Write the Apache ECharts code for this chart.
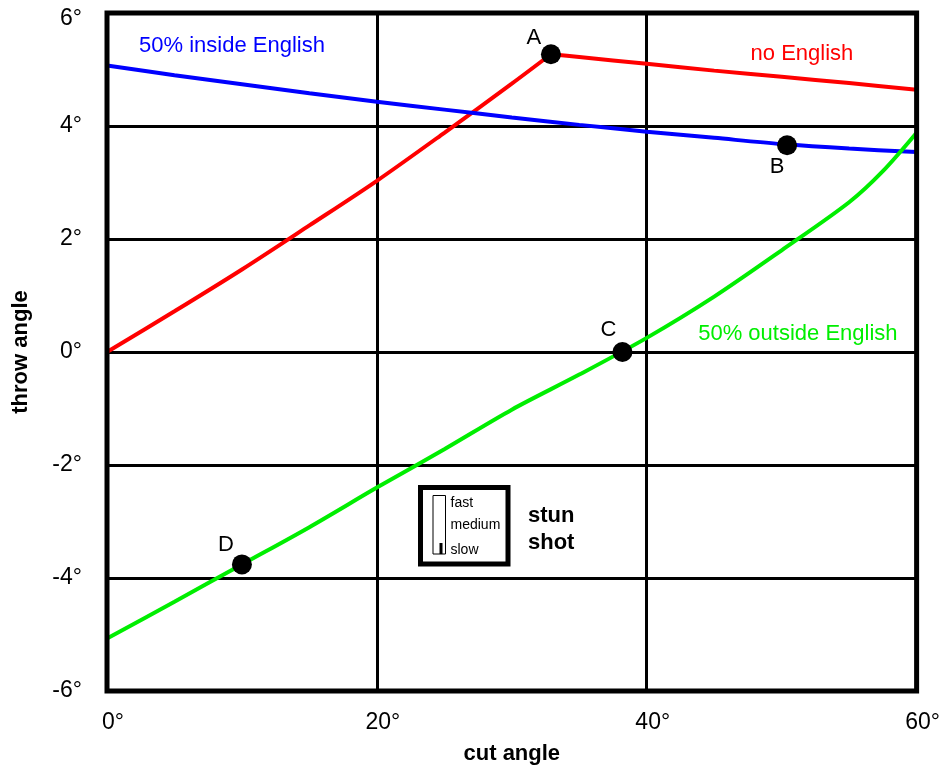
<!DOCTYPE html>
<html>
<head>
<meta charset="utf-8">
<script src="https://cdn.jsdelivr.net/npm/echarts@6/dist/echarts.min.js"></script>
<style>
  html, body { margin: 0; padding: 0; background: #fff; }
  #chart { width: 943px; height: 770px; }
</style>
</head>
<body>
<div id="chart"></div>
<script>
// Throw angle vs. cut angle for a stun shot
const xTicks = [0, 20, 40, 60];
const yTicks = [-6, -4, -2, 0, 2, 4, 6];

// no English: rises to the peak at A, then falls off
const noEnglishRise = [[0, 0], [5, 0.72], [10, 1.46], [15, 2.24], [20, 3.03], [25, 3.88], [30, 4.75], [32.9, 5.27]];
const noEnglishFall = [[32.9, 5.27], [35, 5.22], [40, 5.1], [45, 4.98], [50, 4.87], [55, 4.76], [60, 4.64]];

// 50% inside English
const insideEnglish = [[0, 5.07], [5, 4.9], [10, 4.74], [15, 4.58], [20, 4.43], [25, 4.29], [30, 4.15], [35, 4.02], [40, 3.9], [45, 3.79], [50, 3.68], [55, 3.6], [60, 3.54]];

// 50% outside English
const outsideEnglish = [[0, -5.07], [5, -4.42], [10, -3.76], [15, -3.1], [20, -2.4], [25, -1.72], [30, -1.02], [35, -0.4], [40, 0.25], [45, 0.98], [50, 1.8], [55, 2.65], [57.5, 3.2], [60, 3.88]];

// labelled reference points
const pointNames = ['A', 'B', 'C', 'D'];
const pointValues = [[32.9, 5.27], [50.4, 3.66], [38.2, 0], [10.0, -3.76]];

// curve captions (anchor positions in data units)
const captionTexts = ['50% inside English', 'no English', '50% outside English'];
const captionColors = ['#0000ff', '#ff0000', '#00ee00'];
const captionAnchors = [[9.26, 5.42], [51.5, 5.28], [51.2, 0.32]];

const FONT = '"Liberation Sans", Arial, sans-serif';

const chart = echarts.init(document.getElementById('chart'), null, { renderer: 'canvas' });

const curve = (name, data, color) => ({
  name: name, type: 'line', data: data, smooth: 0.3,
  symbol: 'none', lineStyle: { color: color, width: 4 }, z: 3
});

const option = {
  backgroundColor: '#ffffff',
  animation: false,
  textStyle: { fontFamily: FONT, color: '#000' },
  grid: {
    left: 107, top: 13, right: 25.5, bottom: 78.5,
    show: true, borderColor: '#000', borderWidth: 5, backgroundColor: 'transparent', z: 10
  },
  xAxis: {
    type: 'value', min: xTicks[0], max: xTicks[xTicks.length - 1], interval: 20,
    name: 'cut angle', nameLocation: 'middle', nameGap: 52,
    nameTextStyle: { fontSize: 22, fontWeight: 'bold', color: '#000', fontFamily: FONT },
    axisLine: { show: false }, axisTick: { show: false },
    axisLabel: {
      fontSize: 23, color: '#000', fontFamily: FONT, margin: 20,
      padding: [0, 0, 0, 12],
      formatter: (v) => v + '°'
    },
    splitLine: { show: true, lineStyle: { color: '#000', width: 3 } }
  },
  yAxis: {
    type: 'value', min: yTicks[0], max: yTicks[yTicks.length - 1], interval: 2,
    name: 'throw angle', nameLocation: 'middle', nameGap: 75, nameRotate: 90,
    nameTextStyle: { fontSize: 22, fontWeight: 'bold', color: '#000', fontFamily: FONT },
    axisLine: { show: false }, axisTick: { show: false },
    axisLabel: {
      fontSize: 23, color: '#000', fontFamily: FONT, margin: 25,
      formatter: (v) => (v === yTicks[yTicks.length - 1] ? '{top|' + v + '°}' : v + '°'),
      rich: { top: { fontSize: 23, fontFamily: FONT, color: '#000', padding: [12, 0, 0, 0] } }
    },
    splitLine: { show: true, lineStyle: { color: '#000', width: 3 } }
  },
  series: [
    curve('no English', noEnglishRise, '#ff0000'),
    curve('no English (after A)', noEnglishFall, '#ff0000'),
    curve('50% inside English', insideEnglish, '#0000ff'),
    curve('50% outside English', outsideEnglish, '#00ee00'),
    {
      name: 'points', type: 'scatter', symbol: 'circle', symbolSize: 20, z: 5,
      itemStyle: { color: '#000', opacity: 1 },
      data: pointNames.map((n, i) => ({
        name: n, value: pointValues[i],
        label: {
          show: true, formatter: n, fontSize: 22, color: '#000', fontFamily: FONT,
          position: 'inside',
          offset: [[-17, -16], [-10, 22], [-14, -22], [-16, -20]][i]
        }
      }))
    },
    {
      name: 'captions', type: 'scatter', symbolSize: 0, z: 6, silent: true,
      itemStyle: { opacity: 1 },
      data: captionTexts.map((t, i) => ({
        value: captionAnchors[i],
        label: {
          show: true, position: 'inside', formatter: t, fontSize: 22,
          color: captionColors[i], fontFamily: FONT
        }
      }))
    }
  ],
  graphic: [
    {
      type: 'group', left: 418, top: 485, z: 20,
      children: [
        { type: 'rect', shape: { x: 2, y: 2.5, width: 87.5, height: 76.5 },
          style: { fill: '#fff', stroke: '#000', lineWidth: 5 } },
        { type: 'rect', shape: { x: 14.5, y: 10.5, width: 12.5, height: 58.5 },
          style: { fill: '#fff', stroke: '#000', lineWidth: 1 } },
        { type: 'rect', shape: { x: 21, y: 58, width: 3, height: 11 },
          style: { fill: '#000' } },
        { type: 'text', x: 32, y: 18, style: { text: 'fast', fontSize: 14, fontFamily: FONT, fill: '#000', textVerticalAlign: 'middle' } },
        { type: 'text', x: 32, y: 40, style: { text: 'medium', fontSize: 14, fontFamily: FONT, fill: '#000', textVerticalAlign: 'middle' } },
        { type: 'text', x: 32, y: 65, style: { text: 'slow', fontSize: 14, fontFamily: FONT, fill: '#000', textVerticalAlign: 'middle' } }
      ]
    },
    {
      type: 'text', left: 528, top: 502, z: 20,
      style: { text: 'stun\nshot', fontSize: 22, fontWeight: 'bold', fontFamily: FONT, fill: '#000', lineHeight: 27 }
    }
  ]
};

chart.setOption(option);
</script>
</body>
</html>
